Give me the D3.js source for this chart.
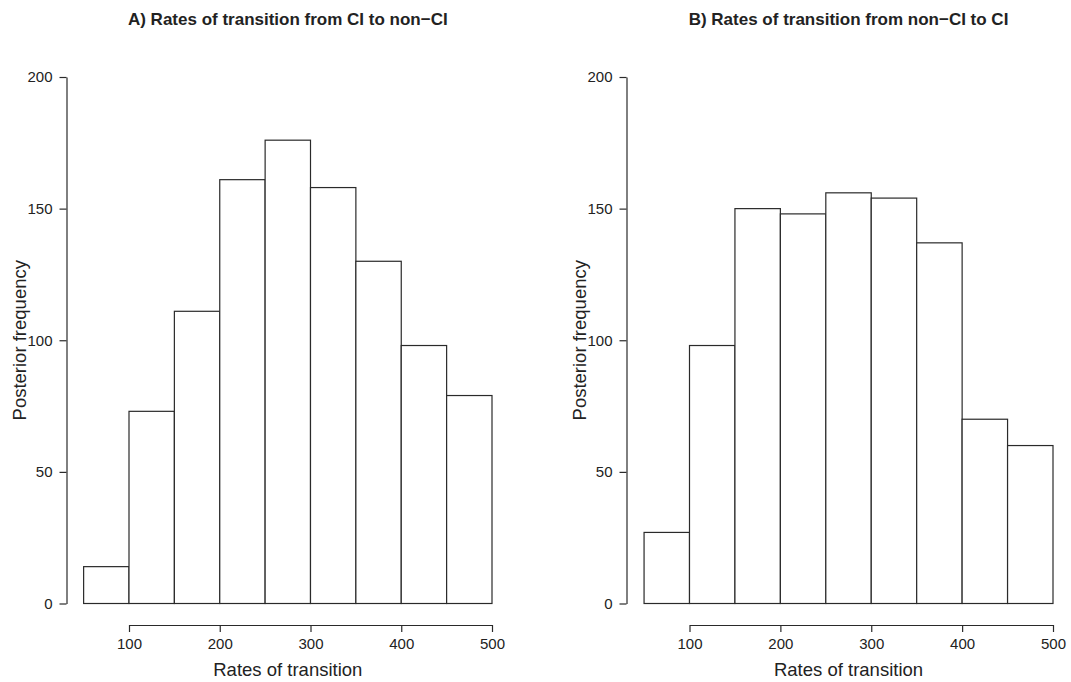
<!DOCTYPE html>
<html>
<head>
<meta charset="utf-8">
<script src="https://cdn.jsdelivr.net/npm/d3@7"></script>
<style>
  body { margin: 0; background: #fff; }
  text { font-family: "Liberation Sans", Arial, sans-serif; fill: #222; }
</style>
</head>
<body>
<svg id="chart" width="1071" height="682"></svg>
<script>
// bin edges shared by both histograms
var binEdges = [50, 100, 150, 200, 250, 300, 350, 400, 450, 500];
var xTicks = [100, 200, 300, 400, 500];
var yTicks = [0, 50, 100, 150, 200];

// posterior counts per bin
var countsA = [14, 73, 111, 161, 176, 158, 130, 98, 79];
var countsB = [27, 98, 150, 148, 156, 154, 137, 70, 60];

var titleA = "A) Rates of transition from CI to non\u2212CI";
var titleB = "B) Rates of transition from non\u2212CI to CI";

var svg = d3.select("#chart");

var y = d3.scaleLinear().domain([0, 200]).range([603.5, 77]);

drawPanel(countsA, titleA, 66.5, [129, 492]);
drawPanel(countsB, titleB, 626.5, [689.5, 1053]);

/**
 * Draws one histogram panel in the R base-graphics style
 */
function drawPanel(counts, title, yAxisX, xRange) {
  var x = d3.scaleLinear().domain([100, 500]).range(xRange);
  var g = svg.append("g");

  var bins = counts.map((c, i) => ({x0: binEdges[i], x1: binEdges[i + 1], n: c}));

  g.selectAll("rect").data(bins).enter().append("rect")
    .attr("x", d => x(d.x0))
    .attr("y", d => y(d.n))
    .attr("width", d => x(d.x1) - x(d.x0))
    .attr("height", d => y(0) - y(d.n))
    .attr("fill", "#fff")
    .attr("stroke", "#2a2a2a")
    .attr("stroke-width", 1.2);

  // x axis below the plot
  var xAxis = g.append("g")
    .attr("transform", "translate(0,625)")
    .call(d3.axisBottom(x).tickValues(xTicks).tickSize(7).tickSizeOuter(0).tickPadding(6));
  xAxis.select(".domain").attr("stroke", "#2a2a2a").attr("stroke-width", 1.2);
  xAxis.selectAll(".tick line").attr("stroke", "#2a2a2a").attr("stroke-width", 1.2);
  xAxis.selectAll("text").style("font-size", "15px").attr("fill", "#222");

  // y axis left of the plot
  var yAxis = g.append("g")
    .attr("transform", `translate(${yAxisX},0)`)
    .call(d3.axisLeft(y).tickValues(yTicks).tickSize(7).tickSizeOuter(0).tickPadding(7));
  yAxis.select(".domain").attr("stroke", "#2a2a2a").attr("stroke-width", 1.2);
  yAxis.selectAll(".tick line").attr("stroke", "#2a2a2a").attr("stroke-width", 1.2);
  yAxis.selectAll("text").style("font-size", "15px").attr("fill", "#222");

  var cx = (x(50) + x(500)) / 2;

  g.append("text")
    .attr("x", cx).attr("y", 25)
    .attr("text-anchor", "middle")
    .style("font-size", "17px").style("font-weight", "bold")
    .text(title);

  g.append("text")
    .attr("x", cx).attr("y", 676)
    .attr("text-anchor", "middle")
    .style("font-size", "18.5px")
    .text("Rates of transition");

  g.append("text")
    .attr("transform", `translate(${yAxisX - 41},${(y(0) + y(200)) / 2}) rotate(-90)`)
    .attr("text-anchor", "middle")
    .style("font-size", "18.5px")
    .text("Posterior frequency");
}
</script>
</body>
</html>
